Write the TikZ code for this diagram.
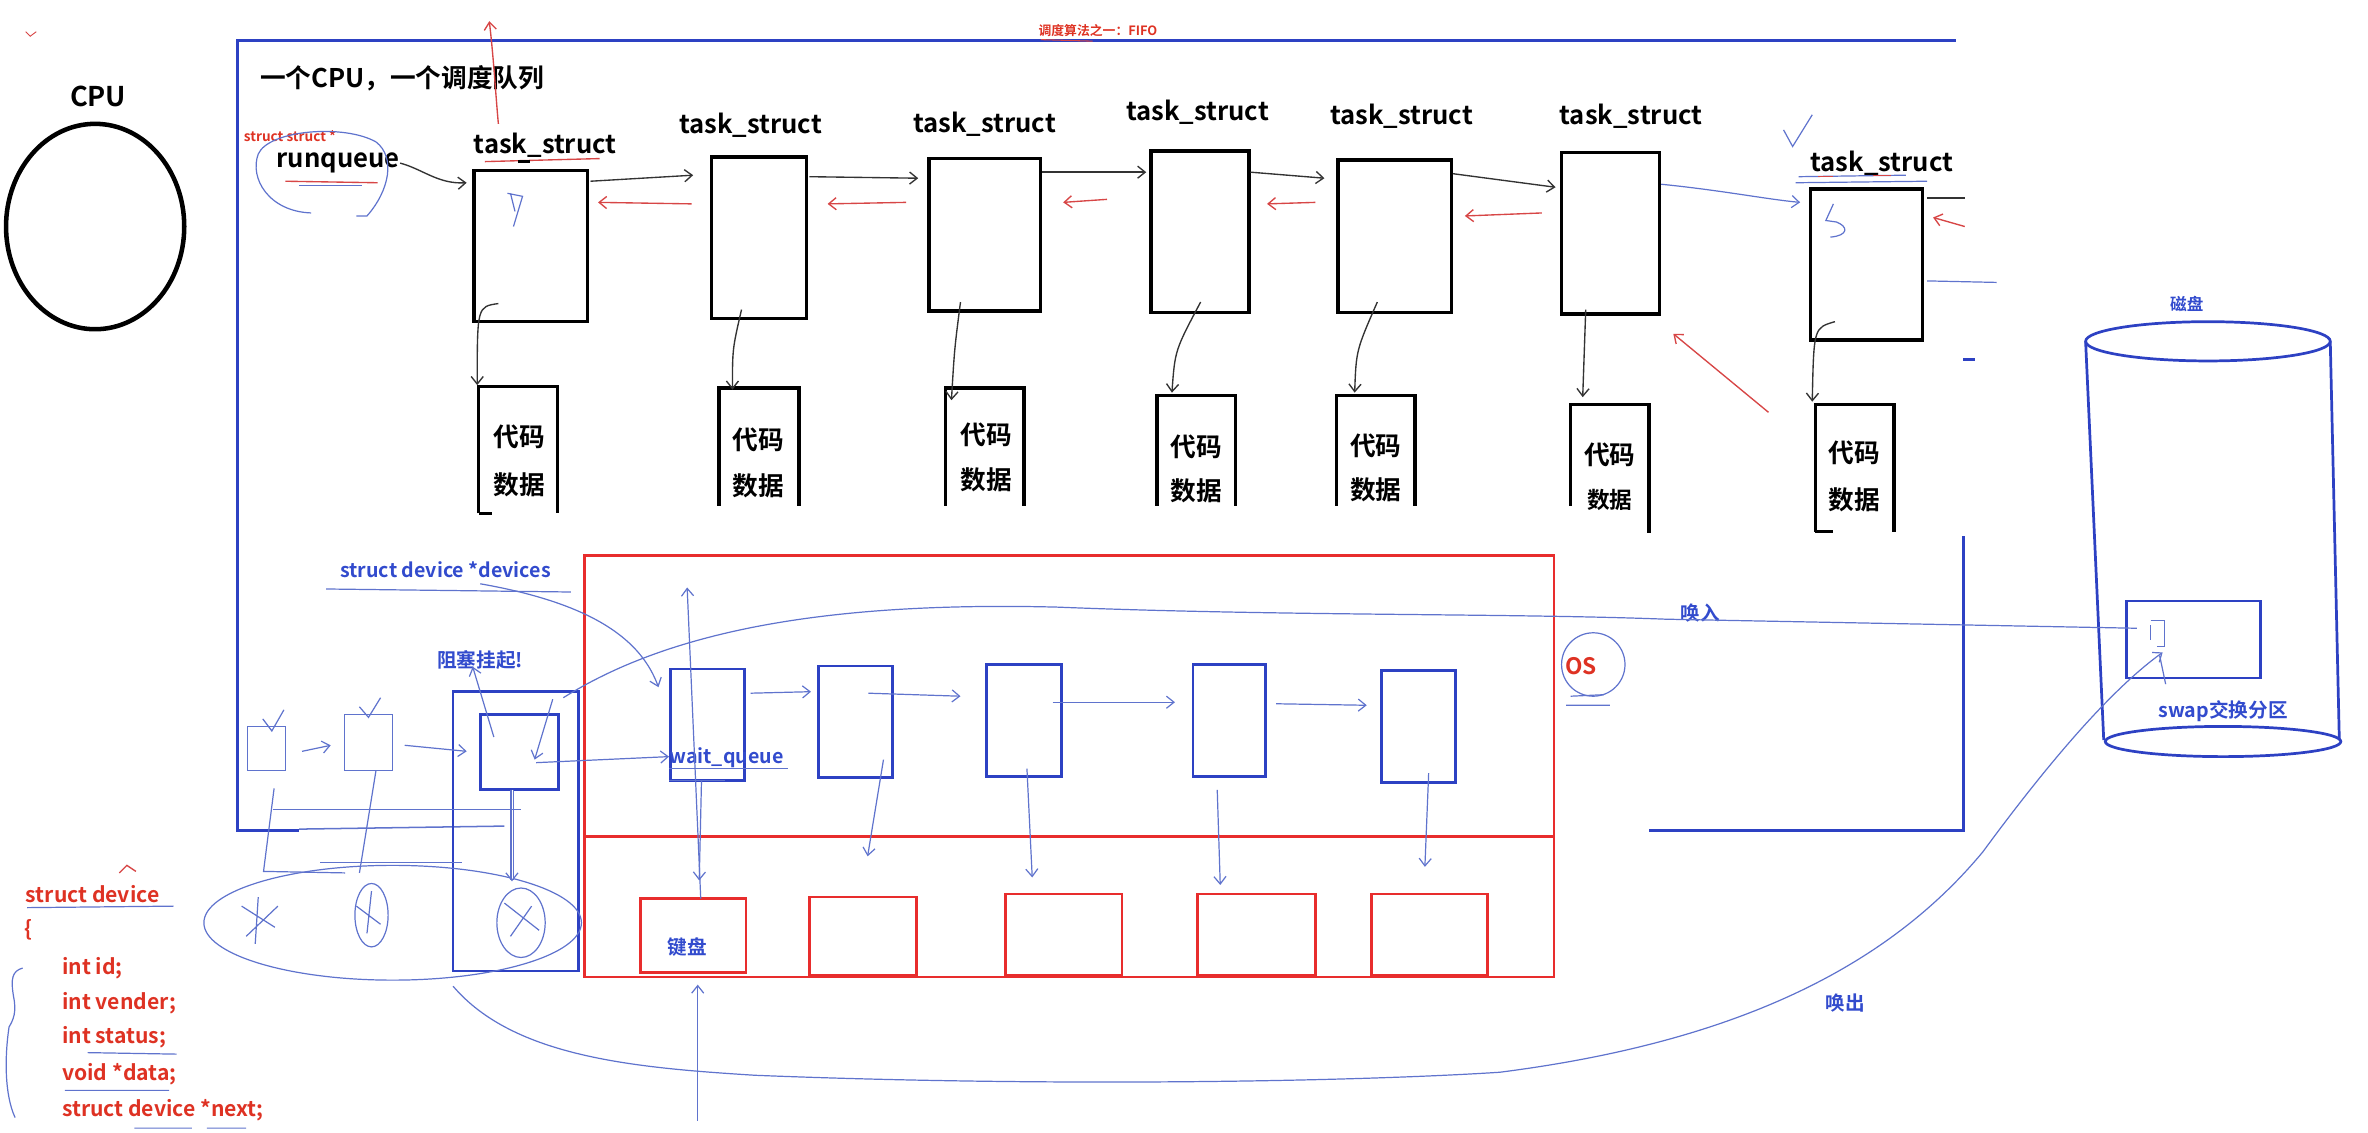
\documentclass[tikz,border=0pt]{standalone}
\usepackage{fontspec}
\setmainfont{Noto Sans CJK SC}[BoldFont={Noto Sans CJK SC Bold}]
\usetikzlibrary{calc,arrows.meta,shapes.geometric}
\definecolor{frameblue}{RGB}{45,65,195}
\definecolor{penblue}{RGB}{95,115,205}
\definecolor{tblue}{RGB}{50,75,205}
\definecolor{boxred}{RGB}{232,45,45}
\definecolor{tred}{RGB}{222,50,35}
\definecolor{penred}{RGB}{215,70,70}
\newcommand\mkbox[6]{\node[#2, anchor=north west, minimum width={(#5-#3)*1pt}, minimum height={(#6-#4)*1pt}] (#1) at (#3,#4) {};}
\begin{document}
\begin{tikzpicture}[x=1pt,y=-1pt,
  tsbox/.style={draw=black, line width=2.3pt, inner sep=0, outer sep=0},
  cdbox/.style={inner sep=0, outer sep=0},
  wbox/.style={draw=frameblue, line width=1.8pt, inner sep=0, outer sep=0},
  dbox/.style={draw=boxred, line width=1.8pt, inner sep=0, outer sep=0},
  hbox/.style={draw=penblue, line width=0.8pt, inner sep=0, outer sep=0},
  cdline/.style={draw=black, line width=2.3pt},
  tslbl/.style={inner sep=0, font=\bfseries\fontsize{17}{20}\selectfont},
  cdtx/.style={inner sep=0, font=\bfseries\fontsize{17}{20}\selectfont},
  btx/.style={inner sep=0, text=tblue, font=\bfseries\fontsize{13}{16}\selectfont},
  rtx/.style={inner sep=0, text=tred, font=\bfseries\fontsize{14}{17}\selectfont},
  blk/.style={draw=black!80, line width=0.9pt},
  bpen/.style={draw=penblue, line width=0.8pt},
  rpen/.style={draw=penred, line width=0.9pt},
  barb/.style={-{Straight Barb[length=5pt,width=8pt]}}
]
\useasboundingbox (0,0) rectangle (1568,750);

% CPU
\node[draw, ellipse, line width=3pt, minimum width=118pt, minimum height=136pt, inner sep=0] (cpu) at (63,150) {};
\node[inner sep=0, font=\bfseries\fontsize{18}{20}\selectfont] (cpulbl) at (65,64) {CPU};

% big blue frame
\draw[draw=frameblue, line width=2pt] (1295,27) -- (157,27) -- (157,550) -- (198,550);
\draw[draw=penblue, line width=1pt] (198,549) -- (334,547);
\draw[draw=frameblue, line width=2pt] (1300,355) -- (1300,550) -- (1092,550);
\draw[draw=frameblue, line width=2pt] (1300,238) -- (1308,238);

% title texts
\node[inner sep=0, font=\bfseries\fontsize{17}{20}\selectfont, anchor=west] (title) at (172,52) {一个CPU，一个调度队列};
\node[inner sep=0, text=tred, font=\bfseries\fontsize{8.5}{10}\selectfont] (fifo) at (727,20) {调度算法之一：FIFO};
\draw[rpen, line width=0.7pt] ($(fifo.south west)+(2,2)$) -- ($(fifo.south west)+(36,3)$);

% runqueue
\node[inner sep=0, text=tred, font=\bfseries\fontsize{9}{10}\selectfont] (ss) at (192,90) {struct struct *};
\node[inner sep=0, font=\bfseries\fontsize{17}{20}\selectfont] (rq) at (224,108) {runqueue};
\draw[bpen] (206,141) .. controls (178,140) and (165,118) .. (171,102) .. controls (178,86) and (228,82) .. (249,94) .. controls (262,104) and (258,126) .. (243,143) -- (236,143);
\draw[rpen] (189,120) -- (250,121);
\draw[bpen] (198,123) -- (240,123);

% task_struct boxes
\mkbox{ts1}{tsbox}{314}{113}{389}{213}
\mkbox{ts2}{tsbox}{471}{104}{534}{211}
\mkbox{ts3}{tsbox}{615}{105}{689}{206}
\mkbox{ts4}{tsbox}{762}{100}{827}{207}
\mkbox{ts5}{tsbox}{886}{106}{961}{207}
\mkbox{ts6}{tsbox}{1034}{101}{1099}{208}
\mkbox{ts7}{tsbox}{1199}{125}{1273}{225}
\node[tslbl] (l1) at (361,96) {task\_struct};
\node[tslbl] (l2) at (497,83) {task\_struct};
\node[tslbl] (l3) at (652,82) {task\_struct};
\node[tslbl] (l4) at (793,74) {task\_struct};
\node[tslbl] (l5) at (928,77) {task\_struct};
\node[tslbl] (l6) at (1080,77) {task\_struct};
\node[tslbl] (l7) at (1246,108) {task\_struct};
\draw[rpen] (321,107) -- (397,105);
\draw[black, line width=1.5pt] (343,107) -- (351,107);
\draw[bpen] (1191,117) -- (1262,116);
\draw[bpen] (1189,121) -- (1276,120);
\draw[rpen] (1204,117) -- (1214,117) (1240,116) -- (1252,116);

% code/data boxes (open bottom)
\mkbox{c1}{cdbox}{317}{256}{369}{340}
\mkbox{c2}{cdbox}{476}{257}{529}{335}
\mkbox{c3}{cdbox}{626}{257}{678}{335}
\mkbox{c4}{cdbox}{766}{262}{818}{335}
\mkbox{c5}{cdbox}{885}{262}{937}{335}
\mkbox{c6}{cdbox}{1040}{268}{1092}{353}
\mkbox{c7}{cdbox}{1202}{268}{1254}{352}
\foreach \c in {c1,c2,c3,c4,c5,c7}{
  \draw[cdline] (\c.south west) -- (\c.north west) -- (\c.north east) -- (\c.south east);
}
\draw[cdline] ($(c6.south west)+(0,-18)$) -- (c6.north west) -- (c6.north east) -- (c6.south east);
\draw[cdline] (c1.south west) -- ($(c1.south west)+(9,0)$);
\draw[cdline] (c7.south west) -- ($(c7.south west)+(12,0)$);
\node[cdtx] (c1a) at (344,289) {代码};
\node[cdtx] (c1b) at (344,321) {数据};
\node[cdtx] (c2a) at (502,291) {代码};
\node[cdtx] (c2b) at (502,322) {数据};
\node[cdtx] (c3a) at (653,288) {代码};
\node[cdtx] (c3b) at (653,318) {数据};
\node[cdtx] (c4a) at (792,296) {代码};
\node[cdtx] (c4b) at (792,325) {数据};
\node[cdtx] (c5a) at (911,295) {代码};
\node[cdtx] (c5b) at (911,324) {数据};
\node[cdtx] (c6a) at (1066,301) {代码};
\node[inner sep=0, font=\bfseries\fontsize{15}{17}\selectfont] (c6b) at (1066,331) {数据};
\node[cdtx] (c7a) at (1228,300) {代码};
\node[cdtx] (c7b) at (1228,331) {数据};

% runqueue -> ts1
\draw[blk, barb] (rq.east) .. controls (280,112) and (290,122) .. ($(ts1.north west)+(-5,8)$);
% forward links
\draw[blk, barb] ($(ts1.north east)+(2,7)$) -- ($(ts2.north west)+(-12,12)$);
\draw[blk, barb] ($(ts2.north east)+(2,13)$) -- ($(ts3.north west)+(-7,13)$);
\draw[blk, barb] ($(ts3.north east)+(1,9)$) -- ($(ts4.north west)+(-3,14)$);
\draw[blk, barb] ($(ts4.north east)+(1,14)$) -- ($(ts5.north west)+(-9,12)$);
\draw[blk, barb] ($(ts5.north east)+(1,9)$) -- ($(ts6.north west)+(-4,23)$);
\draw[bpen, barb] ($(ts6.north east)+(1,21)$) .. controls (1140,126) and (1170,132) .. ($(ts7.north west)+(-7,9)$);
\coordinate (r7a) at (1301,131);
\coordinate (r7b) at (1301,150);
\coordinate (r7c) at (1322,187);
\draw[blk] ($(ts7.north east)+(3,6)$) -- (r7a);
\draw[rpen, barb] (r7b) -- ($(ts7.north east)+(7,19)$);
\draw[bpen] ($(ts7.south east)+(3,-39)$) -- (r7c);
% backward red links
\draw[rpen, barb] ($(ts2.north west)+(-13,31)$) -- ($(ts1.north east)+(7,21)$);
\draw[rpen, barb] ($(ts3.north west)+(-15,29)$) -- ($(ts2.north east)+(14,31)$);
\draw[rpen, barb] ($(ts4.north west)+(-29,32)$) -- ($(ts3.north east)+(15,29)$);
\draw[rpen, barb] ($(ts5.north west)+(-15,28)$) -- ($(ts4.north east)+(12,35)$);
\draw[rpen, barb] ($(ts6.north west)+(-13,40)$) -- ($(ts5.north east)+(9,37)$);
\draw[rpen, barb] ($(ts7.south west)+(-28,48)$) -- ($(ts6.south east)+(9,13)$);
% red arrow up above ts1
\coordinate (uptop) at (324,14);
\draw[rpen, barb] (330,82) .. controls (328,60) and (327,40) .. (uptop);
% ts -> code links
\draw[blk, barb] ($(ts1.south west)+(16,-12)$) .. controls ($(ts1.south west)+(2,-10)$) .. ($(c1.north west)+(-1,-1)$);
\draw[blk, barb] ($(ts2.south west)+(20,-6)$) .. controls ($(ts2.south west)+(14,20)$) .. ($(c2.north west)+(9,1)$);
\draw[blk, barb] ($(ts3.south west)+(21,-6)$) .. controls ($(ts3.south west)+(17,25)$) .. ($(c3.north west)+(4,8)$);
\draw[blk, barb] ($(ts4.south west)+(33,-7)$) .. controls ($(ts4.south west)+(16,25)$) .. ($(c4.north west)+(10,-2)$);
\draw[blk, barb] ($(ts5.south west)+(26,-7)$) .. controls ($(ts5.south west)+(12,25)$) .. ($(c5.north west)+(12,-2)$);
\draw[blk, barb] ($(ts6.south west)+(16,-3)$) -- ($(c6.north west)+(8,-5)$);
\draw[blk, barb] ($(ts7.south west)+(16,-12)$) .. controls ($(ts7.south west)+(2,-8)$) .. ($(c7.north west)+(-2,-2)$);
% little pen marks inside boxes
\draw[bpen] (336,128) -- (346,130) -- (340,150) (338,128) -- (341,140);
\draw[bpen] (1214,135) -- (1209,146) -- (1216,147) .. controls (1224,150) and (1224,156) .. (1212,157);
\draw[bpen] (1181,86) -- (1187,97) -- (1200,76);

% OS red box
\mkbox{osbox}{dbox}{387}{368}{1029}{647}
\draw[draw=boxred, line width=1.8pt] ($(osbox.north west)+(0,186)$) -- ($(osbox.north east)+(0,186)$);
\node[inner sep=0, text=tred, font=\bfseries\fontsize{15}{17}\selectfont] (os) at (1047,441) {OS};
\draw[bpen] ($(os)+(8,-1)$) ellipse [x radius=21pt, y radius=21pt];
\draw[bpen] (1040,461) -- (1062,460) (1037,467) -- (1066,467);

% wait queue boxes
\mkbox{w1}{wbox}{444}{443}{493}{517}
\mkbox{w2}{wbox}{542}{441}{591}{515}
\mkbox{w3}{wbox}{653}{440}{703}{514}
\mkbox{w4}{wbox}{790}{440}{838}{514}
\mkbox{w5}{wbox}{915}{444}{964}{518}
\node[btx, anchor=west] (wq) at (443,502) {wait\_queue};
\draw[bpen] (443,509) -- (522,509) (443,517) -- (480,517);
\draw[bpen, barb] ($(w1.north east)+(4,16)$) -- ($(w2.north west)+(-5,17)$);
\draw[bpen, barb] ($(w2.north east)+(-16,18)$) -- ($(w3.north west)+(-17,21)$);
\draw[bpen, barb] ($(w3.north east)+(-6,25)$) -- ($(w4.north west)+(-12,25)$);
\draw[bpen, barb] ($(w4.north east)+(7,26)$) -- ($(w5.north west)+(-10,23)$);

% device boxes
\mkbox{d1}{dbox}{424}{595}{494}{644}
\mkbox{d2}{dbox}{536}{594}{607}{646}
\mkbox{d3}{dbox}{666}{592}{743}{646}
\mkbox{d4}{dbox}{793}{592}{871}{646}
\mkbox{d5}{dbox}{908}{592}{985}{646}
\node[btx] (jp) at (455,627) {键盘};
\draw[bpen, barb] ($(w2.south west)+(43,-12)$) -- ($(d2.north)+(3,-27)$);
\draw[bpen, barb] ($(w3.south west)+(27,-5)$) -- ($(d3.north)+(-21,-11)$);
\draw[bpen, barb] ($(w4.south west)+(16,9)$) -- ($(d4.north)+(-24,-6)$);
\draw[bpen, barb] ($(w5.south west)+(31,-6)$) -- ($(d5.north)+(-3,-18)$);
\coordinate (wtop) at (455,389);
\draw[bpen, barb] ($(d1.north)+(5,0)$) -- (wtop);
\draw[bpen, barb] ($(w1.south)+(-4,0)$) -- ($(d1.north)+(4,-12)$);
\coordinate (kbin) at (462,742);
\draw[bpen, barb] (kbin) -- ($(d1.south)+(3,8)$);

% devices pointer
\node[btx] (sdd) at (295,377) {struct device *devices};
\draw[bpen] (216,390) -- (378,392);
\draw[bpen, barb] ($(sdd.south)+(23,4)$) .. controls (395,400) and (425,425) .. ($(w1.north west)+(-8,12)$);

% blocked device
\node[btx] (zs) at (318,437) {阻塞挂起!};
\mkbox{tr}{wbox}{300}{458}{383}{643}
\mkbox{sq}{wbox}{318}{473}{370}{523}
\draw[bpen, barb] ($(sq.north east)+(-15,32)$) -- ($(w1.south west)+(-1,-16)$);
\draw[bpen, barb] ($(sq.north west)+(9,15)$) -- ($(zs.south)+(-5,-2)$);
\draw[bpen, barb] ($(sq.north east)+(-4,-10)$) -- ($(sq.north east)+(-16,30)$);
\mkbox{sb1}{hbox}{164}{481}{189}{510}
\mkbox{sb2}{hbox}{228}{473}{260}{510}
\draw[bpen, barb] ($(sb1.east)+(11,2)$) -- ($(sb2.west)+(-9,2)$);
\draw[bpen, barb] ($(sb2.east)+(8,2)$) -- ($(tr.west)+(9,-53)$);
\draw[bpen] (174,476) -- (180,484) -- (188,470) (238,468) -- (244,475) -- (252,462);
% chain to the device set
\node[bpen, draw, ellipse, minimum width=250pt, minimum height=76pt, inner sep=0] (devset) at (260,611) {};
\node[bpen, draw, ellipse, minimum width=22pt, minimum height=42pt, inner sep=0] (o2) at (246,606) {};
\node[bpen, draw, ellipse, minimum width=32pt, minimum height=46pt, inner sep=0] (o3) at (345,611) {};
\draw[bpen] ($(sb1.south)+(5,12)$) -- ($(sb1.south)+(-2,67)$) -- ($(sb1.south)+(52,68)$);
\draw[bpen] ($(sb2.south)+(5,0)$) -- ($(sb2.south)+(-6,68)$);
\draw[bpen, double, barb] ($(sq.south)+(-5,0)$) -- ($(o3.north)+(-6,-4)$);
\draw[bpen] (181,536) -- (345,536) (212,571) -- (306,571);
\draw[bpen] (160,600) -- (182,614) (163,620) -- (184,600) (171,594) -- (169,625);
\draw[bpen] (236,600) -- (252,612) (246,590) -- (243,618);
\draw[bpen] (334,598) -- (357,616) (338,620) -- (352,600);

% struct device code
\node[rtx, anchor=west] (sdv) at (17,592) {struct device};
\draw[bpen] (18,601) -- (115,600);
\draw[rpen] (79,578) -- (84,573) -- (90,577);
\node[rtx, anchor=west] (brace) at (16,616) {\{};
\node[rtx, anchor=west] (f1) at (41,641) {int id;};
\node[rtx, anchor=west] (f2) at (41,664) {int vender;};
\node[rtx, anchor=west] (f3) at (41,687) {int status;};
\node[rtx, anchor=west] (f4) at (41,711) {void *data;};
\node[rtx, anchor=west] (f5) at (41,735) {struct device *next;};
\draw[bpen] (58,697) -- (117,698) (43,722) -- (112,722) (89,747) -- (127,747) (137,747) -- (163,747);
\draw[bpen] (15,641) .. controls (8,643) and (7,648) .. (9,660) .. controls (11,670) and (9,675) .. (6,680) .. controls (3,700) and (3,725) .. (10,740);

% disk
\coordinate (disk) at (1462,226);
\draw[draw=frameblue, line width=1.8pt] (disk) ellipse [x radius=81pt, y radius=13pt];
\draw[draw=frameblue, line width=1.8pt] ($(disk)+(-81,0)$) -- (1393,490);
\draw[draw=frameblue, line width=1.8pt] ($(disk)+(81,0)$) -- (1549,490);
\draw[draw=frameblue, line width=1.8pt] (1472,491) ellipse [x radius=78pt, y radius=10pt];
\node[btx, font=\bfseries\fontsize{11}{13}\selectfont] (cp) at (1448,201) {磁盘};
\mkbox{swap}{wbox}{1408}{398}{1497}{449}
\node[btx] (sw) at (1472,471) {swap交换分区};
\draw[bpen] (1424,411) -- (1433,411) -- (1433,428) -- (1428,428) (1424,414) -- (1424,424);

% swap in / swap out
\node[btx] (hr) at (1126,406) {唤入};
\node[btx] (hc) at (1222,664) {唤出};
\draw[bpen] ($(tr.north east)+(-10,4)$) .. controls (440,420) and (540,398) .. (700,402) .. controls (850,408) and (1000,406) .. (1103,410) -- ($(swap.north west)+(7,18)$);
\draw[bpen, barb] ($(tr.south west)+(0,10)$) .. controls (340,700) and (420,707) .. (500,712) .. controls (700,720) and (900,716) .. (993,710) .. controls (1150,690) and (1250,640) .. (1313,564) .. controls (1360,500) and (1400,455) .. ($(swap.south west)+(24,-17)$);
\draw[bpen] ($(swap.south west)+(22,-15)$) -- ($(swap.south west)+(26,4)$);

% tiny red marks
\draw[rpen, line width=0.6pt] (17,21) -- (20,24) -- (24,21);
\end{tikzpicture}
\end{document}
